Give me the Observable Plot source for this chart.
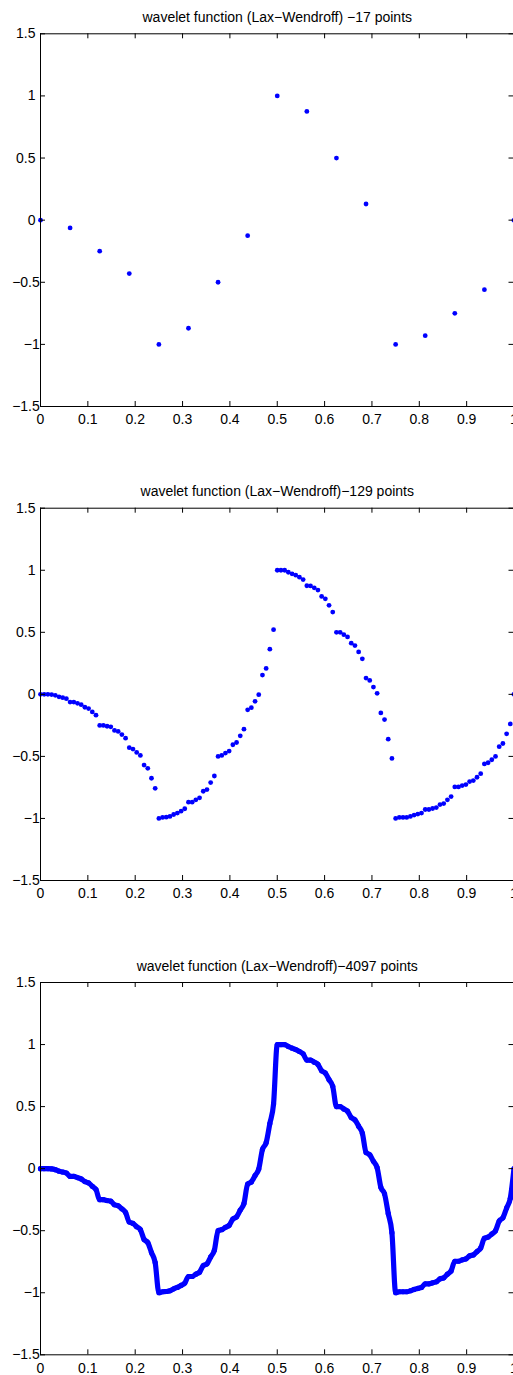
<!DOCTYPE html>
<html><head><meta charset="utf-8">
<script src="https://cdn.jsdelivr.net/npm/d3@7"></script>
<script src="https://cdn.jsdelivr.net/npm/@observablehq/plot@0.6"></script>
<style>
html,body{margin:0;padding:0;background:#fff;overflow:hidden;}
#wrap{width:513px;height:1375px;overflow:hidden;position:relative;}
#wrap svg{display:block;}
</style></head><body><div id="wrap"></div>
<script>
// ---- data ----
const titles = [
  "wavelet function (Lax\u2212Wendroff) \u221217 points",
  "wavelet function (Lax\u2212Wendroff)\u2212129 points",
  "wavelet function (Lax\u2212Wendroff)\u22124097 points"
];
const xTicks = [0, 0.1, 0.2, 0.3, 0.4, 0.5, 0.6, 0.7, 0.8, 0.9, 1];
const yTicks = [1.5, 1, 0.5, 0, -0.5, -1, -1.5];

// 17 samples at x = k/16
const vals17 = [0, -0.0625, -0.25, -0.43, -1, -0.87, -0.5, -0.125, 1, 0.875, 0.5, 0.13, -1, -0.93, -0.75, -0.56, 0];

// 129 samples at x = k/128
const vals129 = [
  0, 0, 0, -0.002, -0.008, -0.02, -0.027, -0.035,
  -0.0625, -0.062, -0.072, -0.083, -0.104, -0.115, -0.142, -0.168,
  -0.25, -0.25, -0.257, -0.262, -0.291, -0.299, -0.324, -0.353,
  -0.43, -0.441, -0.468, -0.492, -0.57, -0.596, -0.676, -0.757,
  -1.0, -0.992, -0.99, -0.984, -0.968, -0.957, -0.941, -0.922,
  -0.869, -0.869, -0.85, -0.834, -0.781, -0.767, -0.711, -0.658,
  -0.5, -0.492, -0.473, -0.457, -0.406, -0.388, -0.334, -0.281,
  -0.125, -0.107, -0.056, -0.003, 0.155, 0.209, 0.364, 0.521,
  1.0, 1.0, 1.0, 0.984, 0.971, 0.96, 0.944, 0.925,
  0.875, 0.874, 0.858, 0.84, 0.789, 0.77, 0.717, 0.663,
  0.5, 0.5, 0.481, 0.463, 0.412, 0.393, 0.342, 0.286,
  0.131, 0.112, 0.059, 0.008, -0.15, -0.203, -0.361, -0.516,
  -1.0, -0.992, -0.992, -0.992, -0.984, -0.973, -0.965, -0.957,
  -0.928, -0.928, -0.92, -0.912, -0.888, -0.88, -0.85, -0.824,
  -0.746, -0.746, -0.735, -0.727, -0.703, -0.695, -0.668, -0.639,
  -0.561, -0.551, -0.527, -0.5, -0.422, -0.396, -0.318, -0.238,
  0
];

// the 4097-point curve at every 32nd sample (x = k/128)
const vals4097Read = vals129;

// ---- drawing ----
const BLUE = "#0000ff";
const fmt = d => d < 0 ? "\u2212" + Math.abs(d) : String(d);

function panel({values, title, height, mt, mb, dense}) {
  const n = values.length - 1;
  const pts = values.map((v, i) => ({x: i / n, y: v}));
  const width = 514, ml = 40, mr = 0.5;
  const innerH = height - mt - mb, innerW = width - ml - mr;
  const marks = [];
  if (dense) {
    marks.push(Plot.line(pts, {x: "x", y: "y", stroke: BLUE, strokeWidth: 5.2, curve: "monotone-x", strokeLinejoin: "round", strokeLinecap: "round"}));
  }
  marks.push(Plot.dot(pts, {x: "x", y: "y", r: dense ? 2.6 : 2.4, fill: BLUE}));
  marks.push(Plot.ruleX(xTicks, {x: d => d, stroke: "black", insetBottom: innerH - 5}));
  marks.push(Plot.ruleX(xTicks, {x: d => d, stroke: "black", insetTop: innerH - 5}));
  marks.push(Plot.ruleY(yTicks, {y: d => d, stroke: "black", insetRight: innerW - 5}));
  marks.push(Plot.ruleY(yTicks, {y: d => d, stroke: "black", insetLeft: innerW - 5}));
  marks.push(Plot.frame({stroke: "black"}));
  marks.push(Plot.axisX(xTicks, {anchor: "bottom", tickSize: 0, tickPadding: 8, tickFormat: fmt, label: null}));
  marks.push(Plot.axisY(yTicks.filter(d => d >= 0), {anchor: "left", tickSize: 0, tickPadding: 5, tickFormat: fmt, label: null}));
  marks.push(Plot.axisY(yTicks.filter(d => d < 0), {anchor: "left", tickSize: 0, tickPadding: 0.7, tickFormat: fmt, label: null}));
  marks.push(Plot.text([title], {text: d => d, frameAnchor: "top", dy: -12, lineAnchor: "bottom", fontSize: 14, fill: "black"}));
  return Plot.plot({
    width, height,
    marginTop: mt, marginBottom: mb, marginLeft: ml, marginRight: mr,
    x: {domain: [0, 1], label: null},
    y: {domain: [-1.5, 1.5], label: null},
    style: {fontFamily: "'Liberation Sans', Arial, Helvetica, sans-serif", fontSize: "14px", color: "black", background: "white", maxWidth: "none", overflow: "visible"},
    marks
  });
}

const wrap = document.getElementById("wrap");
wrap.append(panel({values: vals17, title: titles[0], height: 474, mt: 33.3, mb: 68, dense: false}));
wrap.append(panel({values: vals129, title: titles[1], height: 474, mt: 33.7, mb: 68, dense: false}));
wrap.append(panel({values: vals4097Read, title: titles[2], height: 427, mt: 34, mb: 20.7, dense: true}));
</script>
</body></html>
